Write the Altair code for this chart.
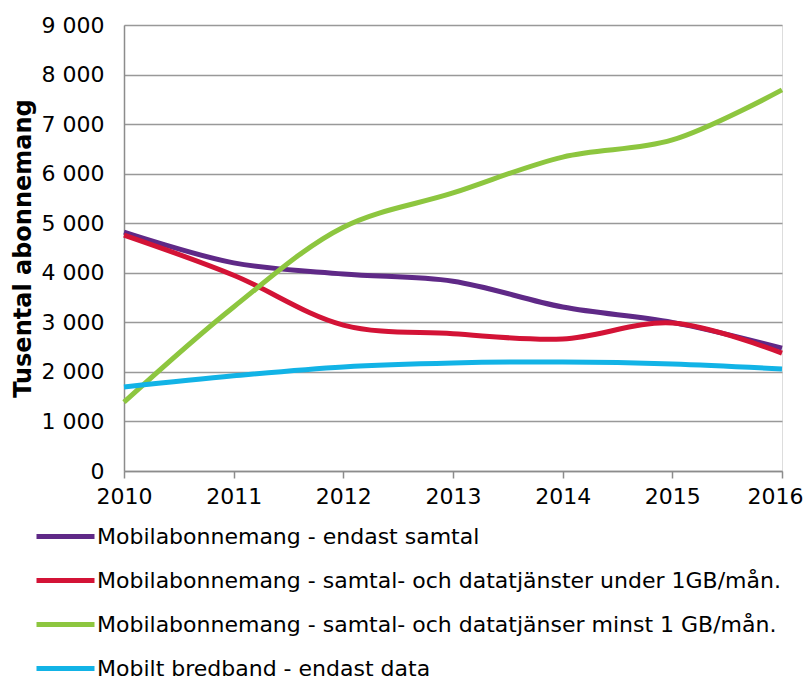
import altair as alt
import pandas as pd

years = [2010, 2011, 2012, 2013, 2014, 2015, 2016]
series = [
    "Mobilabonnemang - endast samtal",
    "Mobilabonnemang - samtal- och datatjänster under 1GB/mån.",
    "Mobilabonnemang - samtal- och datatjänser minst 1 GB/mån.",
    "Mobilt bredband - endast data",
]
endast_samtal = [4820, 4200, 3975, 3830, 3310, 3000, 2480]
under_1gb = [4760, 3950, 2945, 2770, 2665, 2985, 2380]
minst_1gb = [1390, 3310, 4920, 5610, 6335, 6680, 7690]
bredband = [1695, 1920, 2100, 2180, 2200, 2160, 2060]
colors = ["#5F2987", "#D31336", "#8DC63F", "#12B3E6"]
y_ticks = [0, 1000, 2000, 3000, 4000, 5000, 6000, 7000, 8000, 9000]

rows = []
for name, vals in zip(series, [endast_samtal, under_1gb, minst_1gb, bredband]):
    for yr, v in zip(years, vals):
        rows.append({"year": yr, "value": v, "series": name, "order": series.index(name)})
df = pd.DataFrame(rows)

FONT = "DejaVu Sans"

chart = alt.Chart(df).mark_line(interpolate="catmull-rom", strokeWidth=5, strokeCap="butt").encode(
    x=alt.X("year:Q", scale=alt.Scale(domain=[2010, 2016], nice=False, zero=False),
            axis=alt.Axis(values=years, format="d", title=None, grid=False,
                          tickSize=7, tickColor="#8c8c8c", tickWidth=1.5,
                          domainColor="#8c8c8c", domainWidth=1.5,
                          labelFont=FONT, labelFontSize=22, labelColor="black",
                          labelPadding=8, labelFlush=False,
                          labelOffset={"condition": {"test": "datum.value == 2016", "value": -7}, "value": 0})),
    y=alt.Y("value:Q", scale=alt.Scale(domain=[0, 9000], nice=False),
            axis=alt.Axis(values=y_ticks, labelExpr="replace(format(datum.value, ','), ',', ' ')",
                          title="Tusental abonnemang", titleFont=FONT, titleFontSize=24,
                          titleFontWeight="bold", titleColor="black", titlePadding=6,
                          ticks=False, domainColor="#8c8c8c", domainWidth=1.5,
                          gridColor="#999999", gridWidth=1.5,
                          labelFont=FONT, labelFontSize=22, labelColor="black",
                          labelPadding=20)),
    color=alt.Color("series:N", scale=alt.Scale(domain=series, range=colors),
                    legend=alt.Legend(orient="none", legendX=-90, legendY=480, title=None,
                                      direction="vertical", symbolType="stroke",
                                      symbolSize=3364, symbolStrokeWidth=5,
                                      labelFont=FONT, labelFontSize=22, labelColor="black",
                                      labelOffset=0, rowPadding=1, padding=0,
                                      labelLimit=1000)),
    order="order:Q",
).properties(
    width=658, height=446,
    autosize=alt.AutoSizeParams(type="none"),
    padding={"left": 116, "top": 17, "right": 21, "bottom": 208},
).configure_view(stroke=None).configure(background="white")

chart.save("out.html", embed_options={"renderer": "svg", "actions": False})
